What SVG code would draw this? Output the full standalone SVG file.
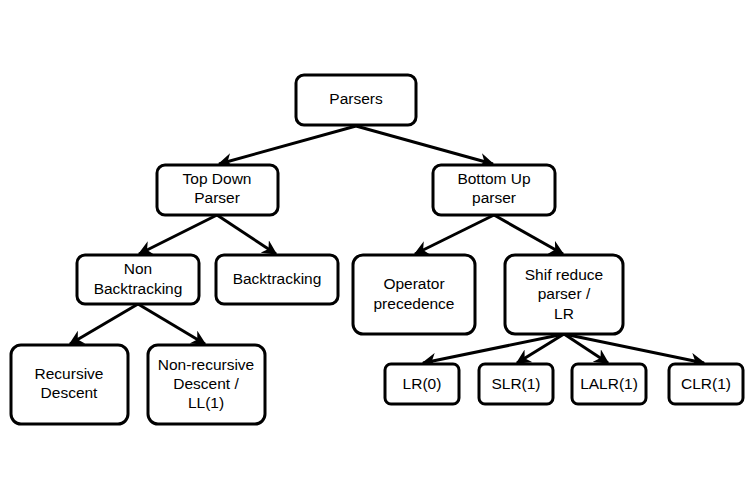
<svg xmlns="http://www.w3.org/2000/svg" width="755" height="500" viewBox="0 0 755 500">
<style>
.n rect{fill:#fff;stroke:#000;stroke-width:3}
.n text{font-family:"Liberation Sans",Arial,sans-serif;font-size:15.5px;fill:#000;text-anchor:middle}
.c line{stroke:#000;stroke-width:3;marker-end:url(#ah)}
</style>
<defs>
<marker id="ah" viewBox="0 0 10 10" refX="9" refY="5" markerWidth="5" markerHeight="5" orient="auto" markerUnits="strokeWidth">
<path d="M0,0 L10,5 L0,10 L3,5 Z" fill="#000"/>
</marker>
</defs>
<rect width="755" height="500" fill="#fff"/>
<g id="connectors" class="c">
<line x1="356" y1="126" x2="219" y2="164"/>
<line x1="356" y1="126" x2="493" y2="164"/>
<line x1="217" y1="215" x2="139" y2="254"/>
<line x1="217" y1="215" x2="276" y2="254"/>
<line x1="494" y1="215" x2="415" y2="254"/>
<line x1="494" y1="215" x2="563" y2="254"/>
<line x1="138" y1="304" x2="70" y2="344"/>
<line x1="138" y1="304" x2="205" y2="344"/>
<line x1="564" y1="334" x2="423" y2="363"/>
<line x1="564" y1="334" x2="517" y2="363"/>
<line x1="564" y1="334" x2="608" y2="363"/>
<line x1="564" y1="334" x2="704" y2="363"/>
</g>
<g id="parsers" class="n"><rect x="296" y="75" width="120" height="50" rx="8"/><text x="356" y="104">Parsers</text></g>
<g id="topdown" class="n"><rect x="157" y="165" width="121" height="50" rx="8"/><text x="217" y="184">Top Down</text><text x="217" y="203">Parser</text></g>
<g id="bottomup" class="n"><rect x="433" y="165" width="122" height="50" rx="8"/><text x="494" y="184">Bottom Up</text><text x="494" y="203">parser</text></g>
<g id="nonbacktracking" class="n"><rect x="77" y="255" width="122" height="49" rx="8"/><text x="138" y="274">Non</text><text x="138" y="294">Backtracking</text></g>
<g id="backtracking" class="n"><rect x="216" y="255" width="122" height="49" rx="8"/><text x="277" y="284">Backtracking</text></g>
<g id="operator" class="n"><rect x="353" y="255" width="122" height="79" rx="10"/><text x="414" y="289">Operator</text><text x="414" y="309">precedence</text></g>
<g id="shiftreduce" class="n"><rect x="505" y="255" width="118" height="79" rx="10"/><text x="564" y="280">Shif reduce</text><text x="564" y="299">parser /</text><text x="564" y="319">LR</text></g>
<g id="recursive" class="n"><rect x="11" y="345" width="117" height="79" rx="10"/><text x="69" y="379">Recursive</text><text x="69" y="398">Descent</text></g>
<g id="nonrecursive" class="n"><rect x="148" y="345" width="117" height="79" rx="10"/><text x="206" y="370">Non-recursive</text><text x="206" y="389">Descent /</text><text x="206" y="408">LL(1)</text></g>
<g id="lr0" class="n"><rect x="385" y="364" width="74" height="40" rx="6"/><text x="422" y="389">LR(0)</text></g>
<g id="slr1" class="n"><rect x="479" y="364" width="74" height="40" rx="6"/><text x="516" y="389">SLR(1)</text></g>
<g id="lalr1" class="n"><rect x="572" y="364" width="74" height="40" rx="6"/><text x="609" y="389">LALR(1)</text></g>
<g id="clr1" class="n"><rect x="669" y="364" width="74" height="40" rx="6"/><text x="706" y="389">CLR(1)</text></g>
</svg>
